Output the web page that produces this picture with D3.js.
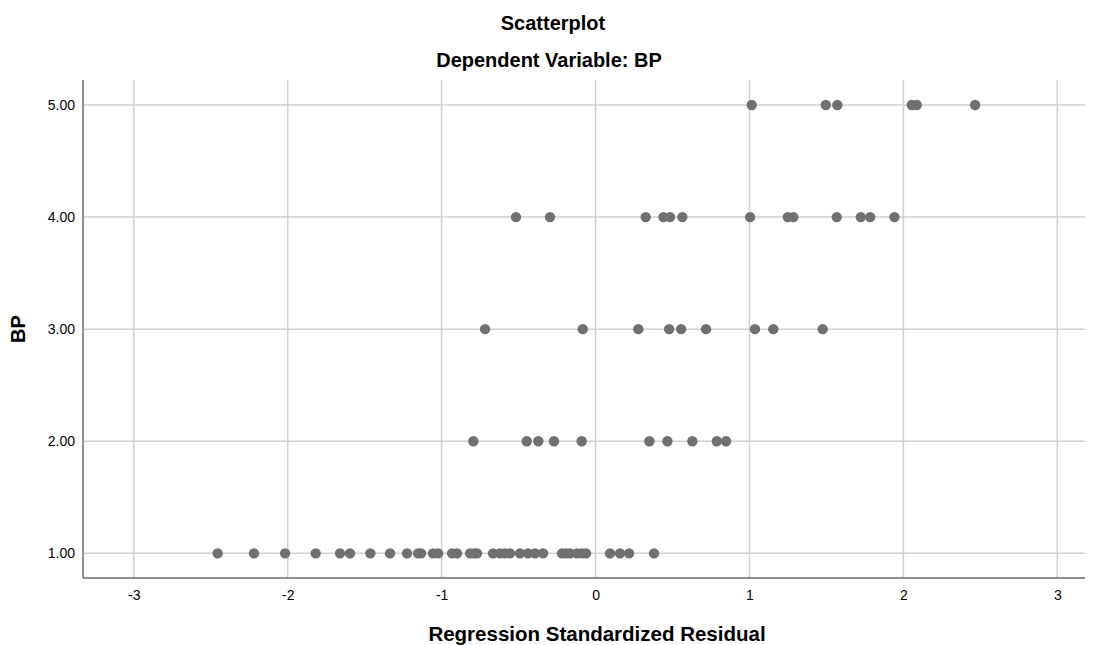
<!DOCTYPE html>
<html>
<head>
<meta charset="utf-8">
<script src="https://cdn.jsdelivr.net/npm/d3@7"></script>
<style>
  body { margin: 0; background: #fff; }
  svg text { font-family: "Liberation Sans", Arial, sans-serif; fill: #000; }
</style>
</head>
<body>
<div id="container"></div>
<script>
/* DATA */
const bpLevels = [1, 2, 3, 4, 5];
const xTicks = [-3, -2, -1, 0, 1, 2, 3];

// standardized residuals, one array per BP value
const residBP1 = [-2.455, -2.219, -2.017, -1.818, -1.660, -1.595, -1.463, -1.335, -1.225, -1.153,
  -1.134, -1.056, -1.023, -0.932, -0.900, -0.815, -0.789, -0.770, -0.666, -0.621, -0.588, -0.556,
  -0.491, -0.439, -0.393, -0.341, -0.218, -0.192, -0.166, -0.120, -0.088, -0.062, 0.094, 0.159,
  0.218, 0.380];
const residBP2 = [-0.794, -0.447, -0.372, -0.270, -0.090, 0.350, 0.467, 0.629, 0.788, 0.848];
const residBP3 = [-0.718, -0.083, 0.278, 0.478, 0.556, 0.718, 1.036, 1.155, 1.476];
const residBP4 = [-0.517, -0.296, 0.326, 0.441, 0.484, 0.564, 1.004, 1.249, 1.285, 1.567, 1.723, 1.784, 1.942];
const residBP5 = [1.015, 1.496, 1.571, 2.055, 2.087, 2.466];

const points = [residBP1, residBP2, residBP3, residBP4, residBP5]
  .flatMap((arr, i) => arr.map(r => ({ resid: r, bp: bpLevels[i] })));

/* CONSTANTS */
const width = 1099, height = 645,
  margin = { left: 83, top: 80, right: 14, bottom: 67 };

const svg = d3.select("#container").append("svg")
  .attr("width", width)
  .attr("height", height);

// SCALES
const xScale = d3.scaleLinear()
  .domain([-3.33, 3.18])
  .range([margin.left, width - margin.right]);

const yScale = d3.scaleLinear()
  .domain([0.78, 5.223])
  .range([height - margin.bottom, margin.top]);

// GRIDLINES
svg.append("g")
  .selectAll("line")
  .data(xTicks)
  .join("line")
  .attr("x1", d => xScale(d)).attr("x2", d => xScale(d))
  .attr("y1", margin.top).attr("y2", height - margin.bottom)
  .attr("stroke", "#cfcfcf")
  .attr("stroke-width", 1.5);

svg.append("g")
  .selectAll("line")
  .data(bpLevels)
  .join("line")
  .attr("x1", margin.left).attr("x2", width - margin.right)
  .attr("y1", d => yScale(d)).attr("y2", d => yScale(d))
  .attr("stroke", "#cfcfcf")
  .attr("stroke-width", 1.5);

// AXES
const xAxis = d3.axisBottom(xScale)
  .tickValues(xTicks)
  .tickFormat(d => String(d))
  .tickSize(0)
  .tickPadding(12);

const yAxis = d3.axisLeft(yScale)
  .tickValues(bpLevels)
  .tickFormat(d3.format(".2f"))
  .tickSize(0)
  .tickPadding(8);

svg.append("g")
  .attr("transform", `translate(0,${height - margin.bottom})`)
  .call(xAxis)
  .call(g => g.select(".domain").remove())
  .selectAll("text")
  .style("font-size", "14px");

svg.append("g")
  .attr("transform", `translate(${margin.left},0)`)
  .call(yAxis)
  .call(g => g.select(".domain").remove())
  .selectAll("text")
  .style("font-size", "14px");

// axis lines
svg.append("line")
  .attr("x1", margin.left).attr("x2", margin.left)
  .attr("y1", margin.top).attr("y2", height - margin.bottom)
  .attr("stroke", "#6b6b6b").attr("stroke-width", 1.5);
svg.append("line")
  .attr("x1", margin.left).attr("x2", width - margin.right)
  .attr("y1", height - margin.bottom).attr("y2", height - margin.bottom)
  .attr("stroke", "#6b6b6b").attr("stroke-width", 1.5);

// POINTS
svg.append("g")
  .selectAll("circle")
  .data(points)
  .join("circle")
  .attr("cx", d => xScale(d.resid))
  .attr("cy", d => yScale(d.bp))
  .attr("r", 5.2)
  .attr("fill", "#707070");

// TITLES
svg.append("text")
  .attr("x", 553).attr("y", 30)
  .attr("text-anchor", "middle")
  .style("font-size", "20px").style("font-weight", "bold")
  .text("Scatterplot");

svg.append("text")
  .attr("x", 549).attr("y", 67)
  .attr("text-anchor", "middle")
  .style("font-size", "20px").style("font-weight", "bold")
  .text("Dependent Variable: BP");

svg.append("text")
  .attr("x", 597).attr("y", 641)
  .attr("text-anchor", "middle")
  .style("font-size", "20.5px").style("font-weight", "bold")
  .text("Regression Standardized Residual");

svg.append("text")
  .attr("transform", `translate(25,${yScale(3)}) rotate(-90)`)
  .attr("text-anchor", "middle")
  .style("font-size", "20px").style("font-weight", "bold")
  .text("BP");
</script>
</body>
</html>
